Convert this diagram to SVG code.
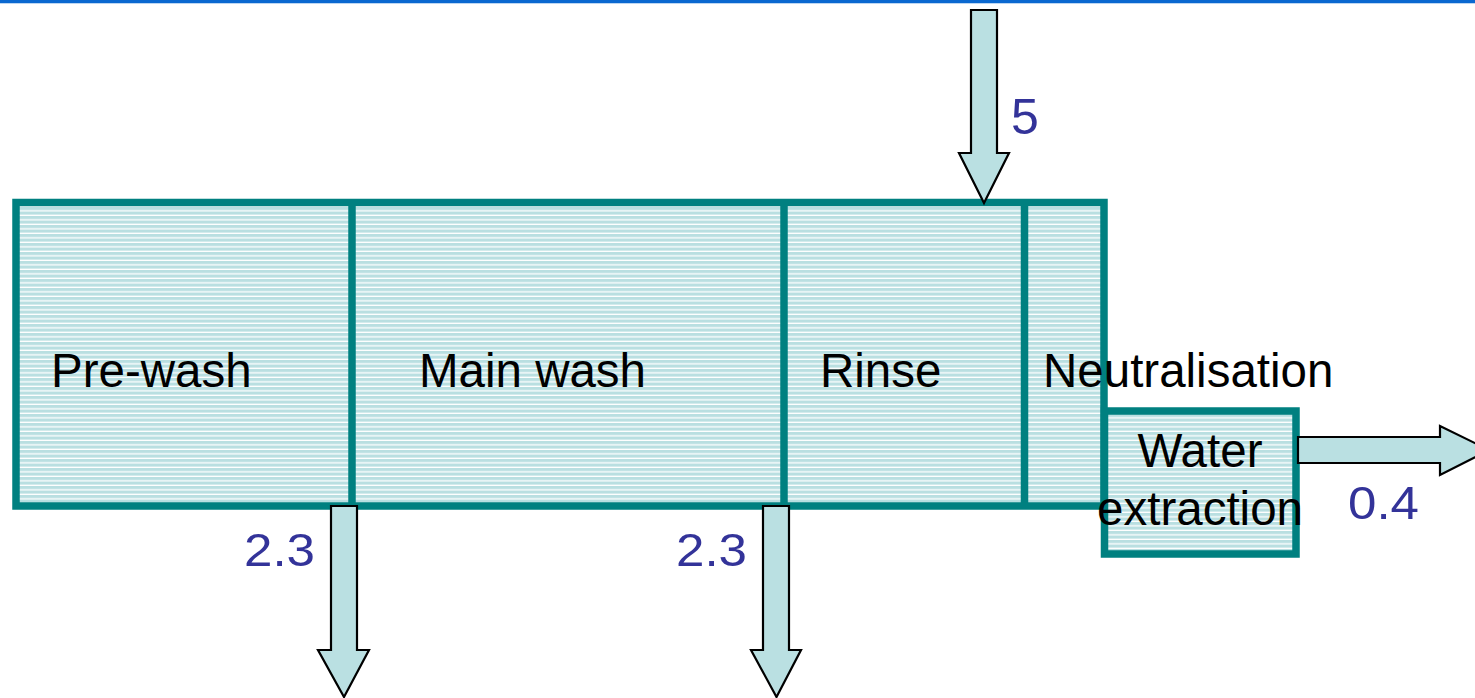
<svg xmlns="http://www.w3.org/2000/svg" width="1475" height="698" viewBox="0 0 1475 698">
  <defs>
    <!-- light teal fill with fine white horizontal rules -->
    <pattern id="hatch" patternUnits="userSpaceOnUse" x="0" y="0" width="8" height="4.5">
      <rect width="8" height="4.5" fill="#b9dfe1"/>
      <rect y="3.2" width="8" height="1.3" fill="#ffffff"/>
    </pattern>
    <style>
      .stage { fill: url(#hatch); stroke: #008080; stroke-width: 7.5; }
      .divider { stroke: #008080; stroke-width: 7.5; }
      .flow { fill: #bae0e2; stroke: #000000; stroke-width: 2.2; stroke-linejoin: miter; }
      .label { font-family: "Liberation Sans", Arial, sans-serif; font-size: 47.5px; fill: #000000; }
      .qty { font-family: "Liberation Sans", Arial, sans-serif; font-size: 46px; fill: #333399; }
    </style>
  </defs>

  <rect width="1475" height="698" fill="#ffffff"/>

  <!-- header rule -->
  <rect x="0" y="0" width="1475" height="3" fill="#0a68d0"/>
  <rect x="0" y="3" width="1475" height="1" fill="#bcd6f2"/>

  <!-- process stages -->
  <g id="washer">
    <rect class="stage" x="16" y="202.5" width="1088" height="303.5"/>
    <line class="divider" x1="352" y1="202.5" x2="352" y2="506"/>
    <line class="divider" x1="784" y1="202.5" x2="784" y2="506"/>
    <line class="divider" x1="1024.5" y1="202.5" x2="1024.5" y2="506"/>
  </g>
  <g id="water-extraction-box">
    <rect class="stage" x="1104.5" y="411" width="191.5" height="143"/>
  </g>

  <!-- water flows -->
  <g id="connectors">
    <polygon class="flow" points="971,10 997,10 997,153 1009,153 984,203 959,153 971,153"/>
    <polygon class="flow" points="331,506 357,506 357,650 369,650 344,697 318,650 331,650"/>
    <polygon class="flow" points="763,506 789,506 789,650 801,650 776.5,697 751,650 763,650"/>
    <polygon class="flow" points="1298,437 1440,437 1440,426 1489,450 1440,475 1440,463 1298,463"/>
  </g>

  <!-- stage names -->
  <g id="pre-wash"><text class="label" x="51" y="386.5">Pre-wash</text></g>
  <g id="main-wash"><text class="label" x="419" y="386.5">Main wash</text></g>
  <g id="rinse"><text class="label" x="820" y="386.5">Rinse</text></g>
  <g id="neutralisation"><text class="label" x="1043" y="386.5">Neutralisation</text></g>
  <g id="water-extraction">
    <text class="label" x="1200" y="467" text-anchor="middle">Water</text>
    <text class="label" x="1200" y="524.5" text-anchor="middle">extraction</text>
  </g>

  <!-- flow quantities -->
  <g id="quantities">
    <text class="qty" x="1011" y="134" style="font-size:50px">5</text>
    <text class="qty" x="244" y="566" textLength="71" lengthAdjust="spacingAndGlyphs">2.3</text>
    <text class="qty" x="676" y="566" textLength="71" lengthAdjust="spacingAndGlyphs">2.3</text>
    <text class="qty" x="1348" y="518.5" textLength="71" lengthAdjust="spacingAndGlyphs">0.4</text>
  </g>
</svg>
